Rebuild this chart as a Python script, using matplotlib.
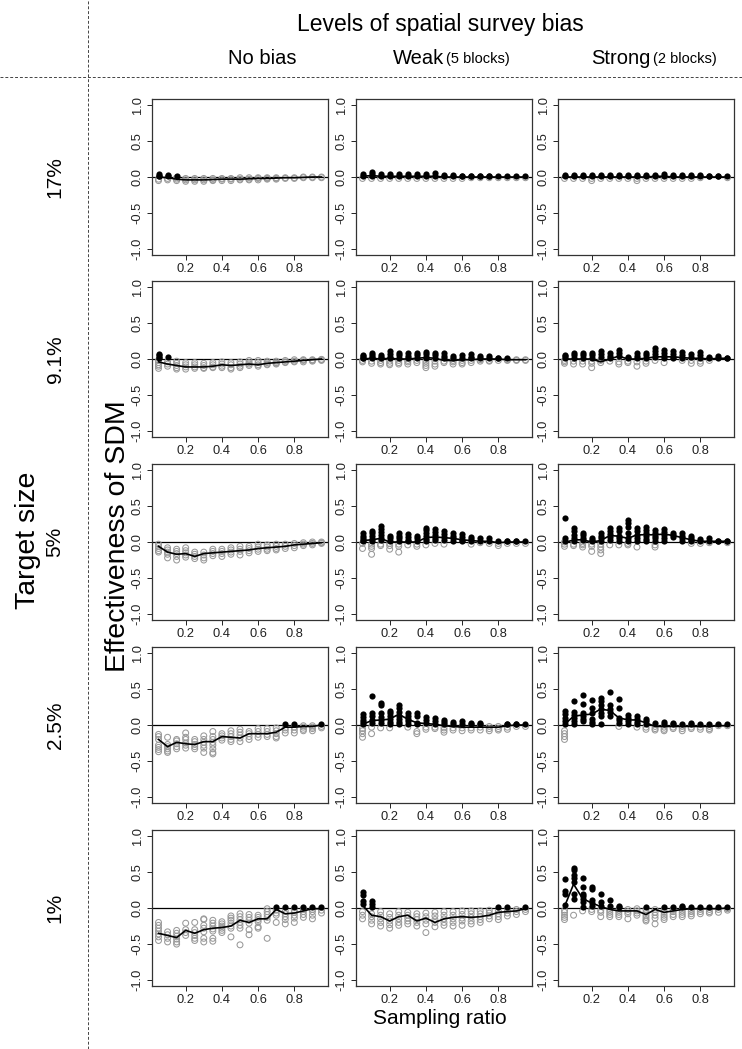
import numpy as np
import matplotlib.pyplot as plt
from matplotlib.lines import Line2D

plt.rcParams['font.family'] = ['Liberation Sans', 'DejaVu Sans']

# sampling ratios on the x axis
ratios = [0.05, 0.10, 0.15, 0.20, 0.25, 0.30, 0.35, 0.40, 0.45, 0.50,
          0.55, 0.60, 0.65, 0.70, 0.75, 0.80, 0.85, 0.90, 0.95]

targets = ['17%', '9.1%', '5%', '2.5%', '1%']
bias_names = ['No bias', 'Weak', 'Strong']
bias_notes = ['', '(5 blocks)', '(2 blocks)']

# replicate effectiveness values per sampling ratio, and mean line
# ---- target 17% ----
pts_17_none = [[0.04, 0.02, 0.01, -0.03, -0.05], [0.03, 0.01, -0.02, -0.04], [0.02, -0.01, -0.03, -0.05],
               [-0.02, -0.04, -0.06], [-0.02, -0.04, -0.06], [-0.02, -0.04, -0.06], [-0.02, -0.04, -0.05],
               [-0.02, -0.03, -0.05], [-0.02, -0.03, -0.05], [-0.01, -0.03, -0.04], [-0.01, -0.03, -0.04],
               [-0.01, -0.02, -0.04], [-0.01, -0.02, -0.03], [-0.01, -0.02, -0.03], [-0.01, -0.02],
               [-0.01, -0.02], [0.0, -0.01], [0.0, -0.01], [0.0, -0.01]]
line_17_none = [0.0, -0.01, -0.03, -0.04, -0.04, -0.04, -0.035, -0.03, -0.03, -0.03,
                -0.025, -0.02, -0.02, -0.015, -0.01, -0.01, -0.005, 0.0, 0.0]
pts_17_weak = [[0.04, 0.02, -0.02], [0.07, 0.04, 0.02, -0.02], [0.04, 0.02, -0.02], [0.04, 0.02, -0.02],
               [0.04, 0.02, -0.02], [0.04, 0.02, -0.02], [0.04, 0.02, -0.02], [0.04, 0.02, -0.02],
               [0.05, 0.02, -0.02], [0.03, 0.01, -0.02], [0.03, 0.01, -0.02], [0.02, 0.01, -0.02],
               [0.02, 0.01, -0.01], [0.02, 0.01, -0.01], [0.02, 0.01, -0.01], [0.01, -0.01],
               [0.01, -0.01], [0.01, -0.01], [0.01, -0.01]]
line_17_weak = [0.01, 0.02, 0.01, 0.01, 0.01, 0.01, 0.01, 0.01, 0.01, 0.0,
                0.0, 0.0, 0.0, 0.0, 0.0, 0.0, 0.0, 0.0, 0.0]
pts_17_strong = [[0.03, 0.01, -0.02], [0.03, 0.01, -0.02], [0.03, 0.01, -0.02], [0.03, 0.01, -0.02, -0.05],
                 [0.03, 0.01, -0.02], [0.03, 0.01, -0.02], [0.03, 0.01, -0.02], [0.03, 0.01, -0.02],
                 [0.03, 0.01, -0.02, -0.05], [0.03, 0.01, -0.02], [0.03, 0.01, -0.02], [0.04, 0.01, -0.02],
                 [0.03, 0.01, -0.02], [0.03, 0.01, -0.02], [0.03, 0.01, -0.02], [0.03, 0.01, -0.01],
                 [0.02, 0.01], [0.02, 0.01], [0.01, -0.01]]
line_17_strong = [0.0, 0.0, 0.0, 0.0, 0.0, 0.0, 0.0, 0.0, 0.0, 0.0,
                  0.01, 0.01, 0.0, 0.0, 0.0, 0.0, 0.0, 0.0, 0.0]

# ---- target 9.1% ----
pts_91_none = [[0.07, 0.05, 0.03, 0.01, -0.02, -0.05, -0.08, -0.1, -0.13], [0.03, -0.04, -0.07, -0.1],
               [-0.03, -0.06, -0.09, -0.12, -0.14], [-0.05, -0.08, -0.11, -0.14], [-0.05, -0.08, -0.11, -0.13],
               [-0.06, -0.09, -0.12, -0.13], [-0.05, -0.08, -0.11, -0.12], [-0.04, -0.07, -0.1, -0.12],
               [-0.05, -0.08, -0.12, -0.14], [-0.04, -0.07, -0.1, -0.12], [-0.02, -0.05, -0.07, -0.09],
               [-0.02, -0.05, -0.08, -0.1], [-0.03, -0.05, -0.07, -0.08], [-0.03, -0.05, -0.06, -0.07],
               [-0.02, -0.04, -0.05], [-0.01, -0.03, -0.04], [-0.01, -0.02, -0.04], [-0.01, -0.02, -0.03],
               [-0.005, -0.01, -0.02]]
line_91_none = [-0.04, -0.07, -0.09, -0.11, -0.11, -0.11, -0.1, -0.08, -0.09, -0.08,
                -0.07, -0.08, -0.06, -0.05, -0.04, -0.03, -0.02, -0.01, 0.0]
pts_91_weak = [[0.06, 0.04, 0.02, 0.01, -0.02, -0.04], [0.09, 0.06, 0.03, 0.01, -0.03, -0.06],
               [0.05, 0.03, 0.01, -0.02, -0.05, -0.07], [0.11, 0.07, 0.03, 0.01, -0.03, -0.06, -0.08],
               [0.08, 0.05, 0.02, -0.02, -0.05, -0.07], [0.08, 0.04, 0.02, -0.02, -0.04, -0.07],
               [0.09, 0.05, 0.02, -0.02, -0.05], [0.1, 0.07, 0.03, 0.01, -0.03, -0.06, -0.09, -0.12],
               [0.09, 0.05, 0.02, -0.03, -0.07, -0.1], [0.08, 0.04, 0.01, -0.03, -0.05],
               [0.04, 0.02, -0.02, -0.04, -0.07], [0.05, 0.02, -0.02, -0.05, -0.07],
               [0.07, 0.03, 0.01, -0.02, -0.05], [0.04, 0.02, -0.01, -0.03], [0.04, 0.02, -0.02, -0.03],
               [0.02, 0.01, -0.02], [0.01, -0.01, -0.02], [-0.01, -0.02], [-0.01, -0.02]]
line_91_weak = [0.0, 0.01, 0.0, 0.01, 0.0, 0.0, 0.01, 0.02, 0.01, -0.02,
                -0.02, -0.01, -0.01, 0.0, 0.0, 0.0, -0.01, -0.01, -0.01]
pts_91_strong = [[0.06, 0.04, 0.02, -0.02, -0.04, -0.06], [0.08, 0.05, 0.02, -0.03, -0.07],
                 [0.08, 0.05, 0.02, -0.03, -0.07], [0.09, 0.05, 0.02, -0.03, -0.06, -0.12],
                 [0.11, 0.07, 0.03, -0.02, -0.05], [0.08, 0.04, 0.01, -0.03],
                 [0.12, 0.08, 0.04, -0.04, -0.07], [0.03, 0.01, -0.03, -0.05],
                 [0.08, 0.04, 0.01, -0.04, -0.1], [0.09, 0.05, 0.02, -0.03, -0.06],
                 [0.15, 0.11, 0.07, 0.03, -0.02], [0.12, 0.08, 0.04, 0.01, -0.05],
                 [0.11, 0.07, 0.03, 0.01], [0.1, 0.06, 0.02, -0.02], [0.07, 0.03, -0.02, -0.06],
                 [0.1, 0.05, 0.02, -0.03, -0.06], [0.03, 0.01, -0.02], [0.04, 0.01], [0.02, 0.01]]
line_91_strong = [0.0, 0.0, 0.0, 0.0, -0.04, 0.0, 0.04, 0.0, 0.0, 0.01,
                  0.03, 0.03, 0.03, 0.02, 0.01, 0.01, 0.0, 0.01, 0.01]

# ---- target 5% ----
pts_5_none = [[-0.03, -0.06, -0.09, -0.12, -0.14], [-0.08, -0.11, -0.14, -0.17, -0.22],
              [-0.1, -0.13, -0.16, -0.2, -0.25], [-0.08, -0.12, -0.15, -0.18, -0.21],
              [-0.14, -0.17, -0.2, -0.23], [-0.14, -0.18, -0.22, -0.25], [-0.1, -0.13, -0.16, -0.19],
              [-0.1, -0.13, -0.16, -0.2], [-0.08, -0.11, -0.14, -0.17], [-0.06, -0.1, -0.13, -0.18],
              [-0.06, -0.09, -0.12, -0.15], [-0.03, -0.07, -0.1, -0.13], [-0.04, -0.07, -0.1, -0.12],
              [-0.03, -0.06, -0.09, -0.11], [-0.03, -0.06, -0.09], [-0.02, -0.05, -0.08],
              [-0.01, -0.03, -0.05], [0.0, -0.02, -0.04], [0.0, -0.01, -0.02]]
line_5_none = [-0.06, -0.14, -0.17, -0.16, -0.2, -0.16, -0.15, -0.14, -0.13, -0.12,
               -0.11, -0.09, -0.08, -0.07, -0.06, -0.04, -0.03, -0.02, -0.01]
pts_5_weak = [[0.12, 0.09, 0.06, 0.03, 0.01, -0.02, -0.09], [0.15, 0.12, 0.08, 0.04, 0.01, -0.03, -0.06, -0.09, -0.17],
              [0.22, 0.18, 0.14, 0.1, 0.06, 0.03, -0.03, -0.05], [0.09, 0.05, 0.02, -0.02, -0.05, -0.1],
              [0.13, 0.09, 0.05, 0.02, -0.03, -0.06, -0.14], [0.11, 0.07, 0.03, 0.01, -0.04],
              [0.09, 0.05, 0.02, -0.03, -0.06], [0.2, 0.17, 0.12, 0.08, 0.04, 0.01, -0.04],
              [0.18, 0.14, 0.1, 0.06, 0.03, -0.02], [0.15, 0.11, 0.07, 0.03, -0.03],
              [0.13, 0.09, 0.05, 0.02], [0.11, 0.07, 0.03, 0.01], [0.07, 0.04, 0.01, -0.03],
              [0.05, 0.02, -0.01], [0.05, 0.02, -0.02], [0.01, -0.02, -0.05], [0.02, 0.01, -0.02],
              [0.02, 0.01, -0.02], [0.01, -0.02]]
line_5_weak = [0.02, 0.03, 0.05, 0.0, 0.0, 0.0, 0.0, 0.06, 0.07, 0.06,
               0.05, 0.03, 0.02, 0.01, 0.01, -0.01, 0.0, 0.0, 0.0]
pts_5_strong = [[0.33, 0.05, 0.02, 0.0, -0.03, -0.06], [0.19, 0.15, 0.1, 0.06, 0.02, -0.03, -0.05],
                [0.13, 0.1, 0.06, 0.03, -0.02, -0.04, -0.07], [0.06, 0.03, 0.01, -0.03, -0.06, -0.13],
                [0.13, 0.09, 0.05, 0.02, -0.03, -0.07, -0.11, -0.16], [0.19, 0.15, 0.11, 0.07, 0.03, -0.04],
                [0.19, 0.15, 0.09, 0.05, 0.02, -0.04], [0.3, 0.26, 0.21, 0.12, 0.05, 0.02, -0.02, -0.04],
                [0.19, 0.15, 0.1, 0.05, 0.02, -0.07], [0.21, 0.17, 0.12, 0.08, 0.04, 0.01],
                [0.17, 0.13, 0.09, 0.05, 0.02, -0.04, -0.07], [0.18, 0.14, 0.1, 0.06, 0.02],
                [0.13, 0.1, 0.07], [0.13, 0.09, 0.05, 0.02], [0.09, 0.06, 0.03, 0.01, -0.02],
                [0.04, 0.02, -0.02], [0.05, 0.02, -0.01], [0.02, 0.01], [0.02, 0.01, -0.01]]
line_5_strong = [-0.01, 0.03, 0.03, 0.0, 0.02, 0.09, 0.08, 0.05, 0.1, 0.1,
                 0.1, 0.11, 0.09, 0.06, 0.03, 0.01, 0.01, 0.01, 0.01]

# ---- target 2.5% ----
pts_25_none = [[-0.13, -0.16, -0.2, -0.28, -0.31, -0.34, -0.37], [-0.17, -0.27, -0.3, -0.33, -0.36, -0.38],
               [-0.2, -0.22, -0.26, -0.3, -0.33], [-0.11, -0.17, -0.2, -0.25, -0.28, -0.32],
               [-0.2, -0.23, -0.27, -0.3, -0.33], [-0.15, -0.2, -0.24, -0.28, -0.32, -0.38],
               [-0.09, -0.16, -0.2, -0.24, -0.28, -0.33, -0.38, -0.4], [-0.12, -0.15, -0.18, -0.21],
               [-0.08, -0.12, -0.16, -0.2, -0.23], [-0.06, -0.1, -0.14, -0.18, -0.23],
               [-0.09, -0.12, -0.16, -0.2], [-0.05, -0.09, -0.13, -0.17], [-0.05, -0.09, -0.13, -0.16],
               [-0.04, -0.08, -0.12, -0.16, -0.18], [0.01, -0.04, -0.07, -0.11], [0.01, -0.03, -0.07, -0.11],
               [-0.01, -0.03, -0.06, -0.08], [-0.01, -0.03, -0.05, -0.08], [0.01, -0.02, -0.04]]
line_25_none = [-0.2, -0.3, -0.24, -0.26, -0.27, -0.23, -0.23, -0.16, -0.17, -0.18,
                -0.12, -0.12, -0.12, -0.1, -0.03, -0.03, -0.02, -0.02, 0.0]
pts_25_weak = [[0.15, 0.11, 0.07, 0.04, 0.01, -0.05, -0.08, -0.12, -0.17], [0.4, 0.16, 0.12, 0.07, 0.03, -0.03, -0.12],
               [0.31, 0.28, 0.16, 0.11, 0.07, 0.03, -0.04], [0.2, 0.16, 0.12, 0.08, 0.04, 0.01, -0.04],
               [0.28, 0.23, 0.18, 0.13, 0.08, 0.04, 0.01], [0.17, 0.13, 0.09, 0.05, 0.02, -0.03],
               [0.17, 0.13, 0.03, 0.01, -0.09, -0.12], [0.11, 0.07, 0.03, -0.03, -0.06],
               [0.1, 0.06, 0.02, -0.03, -0.05], [0.07, 0.04, 0.01, -0.04, -0.07, -0.1],
               [0.04, 0.01, -0.04, -0.07], [0.06, 0.02, -0.04, -0.08], [0.03, 0.01, -0.04, -0.07],
               [0.03, 0.01, -0.03, -0.07], [-0.02, -0.05, -0.08], [-0.02, -0.05, -0.07],
               [0.02, 0.01, -0.03, -0.06], [0.02, 0.01, -0.02], [0.01, -0.02]]
line_25_weak = [0.01, 0.06, 0.07, 0.08, 0.15, 0.08, 0.03, 0.02, 0.01, -0.01,
                -0.02, -0.03, -0.03, -0.03, -0.03, -0.03, -0.01, 0.0, 0.0]
pts_25_strong = [[0.19, 0.15, 0.1, 0.05, 0.02, -0.08, -0.12, -0.16, -0.2], [0.33, 0.18, 0.14, 0.1, 0.06, 0.02],
                 [0.42, 0.29, 0.17, 0.12, 0.08, 0.05], [0.35, 0.23, 0.16, 0.09, 0.04, 0.01],
                 [0.38, 0.33, 0.28, 0.22, 0.17, 0.12, 0.02], [0.46, 0.28, 0.22, 0.18, 0.13],
                 [0.36, 0.23, 0.1, 0.07, 0.03, -0.02], [0.14, 0.1, 0.06, 0.02],
                 [0.12, 0.08, 0.04, 0.01, -0.03], [0.09, 0.05, 0.02, -0.03, -0.06],
                 [0.03, -0.02, -0.05, -0.07], [0.04, 0.01, -0.03, -0.06, -0.08], [0.03, 0.01, -0.03, -0.05],
                 [0.02, -0.02, -0.05, -0.08], [0.03, 0.01, -0.03, -0.05], [0.01, -0.03, -0.06],
                 [0.01, -0.02, -0.05, -0.07], [0.01, -0.01], [0.01, -0.01]]
line_25_strong = [0.01, 0.12, 0.14, 0.15, 0.22, 0.2, 0.1, 0.07, 0.07, 0.03,
                  -0.02, -0.02, -0.02, -0.02, -0.02, -0.02, -0.02, -0.01, -0.01]

# ---- target 1% ----
pts_1_none = [[-0.2, -0.24, -0.28, -0.32, -0.36, -0.4, -0.45], [-0.33, -0.37, -0.42, -0.47],
              [-0.31, -0.35, -0.39, -0.43, -0.47, -0.5], [-0.21, -0.3, -0.34, -0.38],
              [-0.2, -0.3, -0.34, -0.38, -0.42, -0.45], [-0.15, -0.16, -0.24, -0.28, -0.33, -0.42, -0.47],
              [-0.17, -0.21, -0.25, -0.29, -0.32, -0.42, -0.46], [-0.19, -0.22, -0.25, -0.28, -0.31, -0.34],
              [-0.11, -0.14, -0.17, -0.21, -0.25, -0.28, -0.4], [-0.08, -0.12, -0.16, -0.2, -0.24, -0.28, -0.51],
              [-0.09, -0.13, -0.17, -0.21, -0.3, -0.37], [-0.1, -0.13, -0.16, -0.19, -0.26, -0.28],
              [-0.01, -0.05, -0.09, -0.13, -0.17, -0.42], [0.01, -0.03, -0.07, -0.1, -0.2],
              [0.01, -0.04, -0.08, -0.12, -0.16, -0.22], [0.01, -0.03, -0.06, -0.1, -0.14, -0.2],
              [0.01, -0.02, -0.05, -0.09, -0.13], [0.02, -0.02, -0.05, -0.1, -0.15], [0.01, -0.03, -0.07]]
line_1_none = [-0.35, -0.38, -0.41, -0.31, -0.35, -0.3, -0.28, -0.27, -0.25, -0.17,
               -0.2, -0.15, -0.15, -0.02, -0.08, -0.07, -0.04, -0.01, -0.01]
pts_1_weak = [[0.22, 0.18, 0.1, 0.05, -0.05, -0.1, -0.15], [0.1, 0.05, 0.01, -0.08, -0.12, -0.17, -0.22],
              [-0.05, -0.1, -0.15, -0.2, -0.25], [-0.08, -0.13, -0.18, -0.23, -0.28],
              [-0.05, -0.1, -0.15, -0.2, -0.24], [-0.06, -0.1, -0.14, -0.18, -0.22],
              [-0.08, -0.12, -0.16, -0.2, -0.25], [-0.07, -0.12, -0.17, -0.22, -0.34],
              [-0.06, -0.11, -0.16, -0.2, -0.26], [-0.05, -0.1, -0.15, -0.2, -0.24],
              [-0.05, -0.1, -0.15, -0.2, -0.25], [-0.04, -0.09, -0.14, -0.18, -0.24],
              [-0.04, -0.08, -0.13, -0.18, -0.22], [-0.04, -0.08, -0.12, -0.16, -0.2],
              [-0.03, -0.07, -0.11, -0.15], [0.01, -0.04, -0.08, -0.12, -0.16], [0.01, -0.03, -0.07, -0.11],
              [-0.02, -0.05, -0.09], [0.01, -0.02, -0.05]]
line_1_weak = [0.04, -0.1, -0.12, -0.18, -0.12, -0.1, -0.18, -0.14, -0.2, -0.15,
               -0.13, -0.12, -0.13, -0.12, -0.1, -0.06, -0.05, -0.04, -0.01]
pts_1_strong = [[0.4, 0.23, 0.2, 0.04, -0.03, -0.06, -0.1, -0.13, -0.16], [0.56, 0.52, 0.46, 0.41, 0.36, 0.2, 0.12, -0.1],
                [0.42, 0.29, 0.2, 0.16, 0.12, 0.08, 0.01, -0.04], [0.29, 0.27, 0.11, 0.07, 0.03, -0.02, -0.05],
                [0.2, 0.08, 0.03, -0.03, -0.06, -0.12], [0.11, 0.03, -0.03, -0.06, -0.09, -0.12],
                [0.03, 0.01, -0.03, -0.06, -0.09, -0.12], [-0.02, -0.05, -0.08, -0.15],
                [-0.01, -0.04, -0.07, -0.1], [0.02, -0.02, -0.06, -0.1, -0.13, -0.16, -0.18],
                [-0.02, -0.06, -0.1, -0.14, -0.22], [0.01, -0.03, -0.06, -0.1, -0.13, -0.16],
                [0.02, -0.02, -0.05, -0.09, -0.12], [0.03, 0.01, -0.03, -0.06, -0.09, -0.12],
                [0.02, -0.02, -0.05, -0.08, -0.11], [0.02, -0.02, -0.05, -0.08],
                [0.01, -0.02, -0.05, -0.07], [0.01, -0.02, -0.06], [0.01, -0.01, -0.03]]
line_1_strong = [0.02, 0.33, 0.13, 0.07, 0.02, -0.02, -0.04, -0.04, -0.04, -0.09,
                 -0.02, -0.06, -0.04, -0.02, -0.01, -0.01, -0.01, -0.01, 0.0]

panels = [
    [(pts_17_none, line_17_none), (pts_17_weak, line_17_weak), (pts_17_strong, line_17_strong)],
    [(pts_91_none, line_91_none), (pts_91_weak, line_91_weak), (pts_91_strong, line_91_strong)],
    [(pts_5_none, line_5_none), (pts_5_weak, line_5_weak), (pts_5_strong, line_5_strong)],
    [(pts_25_none, line_25_none), (pts_25_weak, line_25_weak), (pts_25_strong, line_25_strong)],
    [(pts_1_none, line_1_none), (pts_1_weak, line_1_weak), (pts_1_strong, line_1_strong)],
]

W, H = 742, 1049
fig = plt.figure(figsize=(W / 100, H / 100), dpi=100)

col_left = [152, 356, 558]
row_top = [99, 281, 464, 647, 830]
ax_w, ax_h = 176, 156

for r in range(5):
    for c in range(3):
        pts, mean_line = panels[r][c]
        ax = fig.add_axes([col_left[c] / W, 1 - (row_top[r] + ax_h) / H, ax_w / W, ax_h / H])
        xs = np.concatenate([[x] * len(v) for x, v in zip(ratios, pts)])
        ys = np.concatenate([v for v in pts])
        neg = ys <= 0
        ax.scatter(xs[neg], ys[neg], s=18, facecolors='none', edgecolors='#999999', linewidths=0.75, zorder=2)
        ax.scatter(xs[~neg], ys[~neg], s=20, color='black', linewidths=0, zorder=3)
        ax.plot(ratios, mean_line, color='black', lw=1.2, zorder=4)
        ax.axhline(0, color='black', lw=0.9, zorder=1)
        ax.set_xlim(0.014, 0.986)
        ax.set_ylim(-1.08, 1.08)
        ax.set_xticks([0.2, 0.4, 0.6, 0.8])
        ax.set_xticklabels(['0.2', '0.4', '0.6', '0.8'])
        ax.set_yticks([-1.0, -0.5, 0.0, 0.5, 1.0])
        ax.set_yticklabels(['-1.0', '-0.5', '0.0', '0.5', '1.0'], rotation=90, va='center')
        ax.tick_params(labelsize=9.3, length=3.5, width=0.7, pad=2.5, colors='#222222')
        for sp in ax.spines.values():
            sp.set_color('#333333')
            sp.set_linewidth(0.9)

# headers
fig.text(440 / W, 1 - 24 / H, 'Levels of spatial survey bias', fontsize=16.5, ha='center', va='center')
fig.text(262 / W, 1 - 58 / H, bias_names[0], fontsize=14.5, ha='center', va='center')
fig.text(444 / W, 1 - 58 / H, bias_names[1], fontsize=14.5, ha='right', va='center')
fig.text(446 / W, 1 - 59 / H, bias_notes[1], fontsize=10.5, ha='left', va='center')
fig.text(651 / W, 1 - 58 / H, bias_names[2], fontsize=14.5, ha='right', va='center')
fig.text(653 / W, 1 - 59 / H, bias_notes[2], fontsize=10.5, ha='left', va='center')

for r, t in enumerate(targets):
    yc = row_top[r] + ax_h / 2
    fig.text(55 / W, 1 - yc / H, t, fontsize=15, rotation=90, ha='center', va='center')

fig.text(28 / W, 1 - 540 / H, 'Target size', fontsize=20.5, rotation=90, ha='center', va='center')
fig.text(118 / W, 1 - 536 / H, 'Effectiveness of SDM', fontsize=20.5, rotation=90, ha='center', va='center')
fig.text(440 / W, 1 - 1018 / H, 'Sampling ratio', fontsize=15, ha='center', va='center')

# dashed frame lines
fig.add_artist(Line2D([0, 1], [1 - 77 / H, 1 - 77 / H], transform=fig.transFigure,
                      color='#444444', lw=0.7, ls=(0, (3, 2))))
fig.add_artist(Line2D([88 / W, 88 / W], [0, 1], transform=fig.transFigure,
                      color='#444444', lw=0.7, ls=(0, (3, 2))))

fig.savefig('out.png', dpi=100)
